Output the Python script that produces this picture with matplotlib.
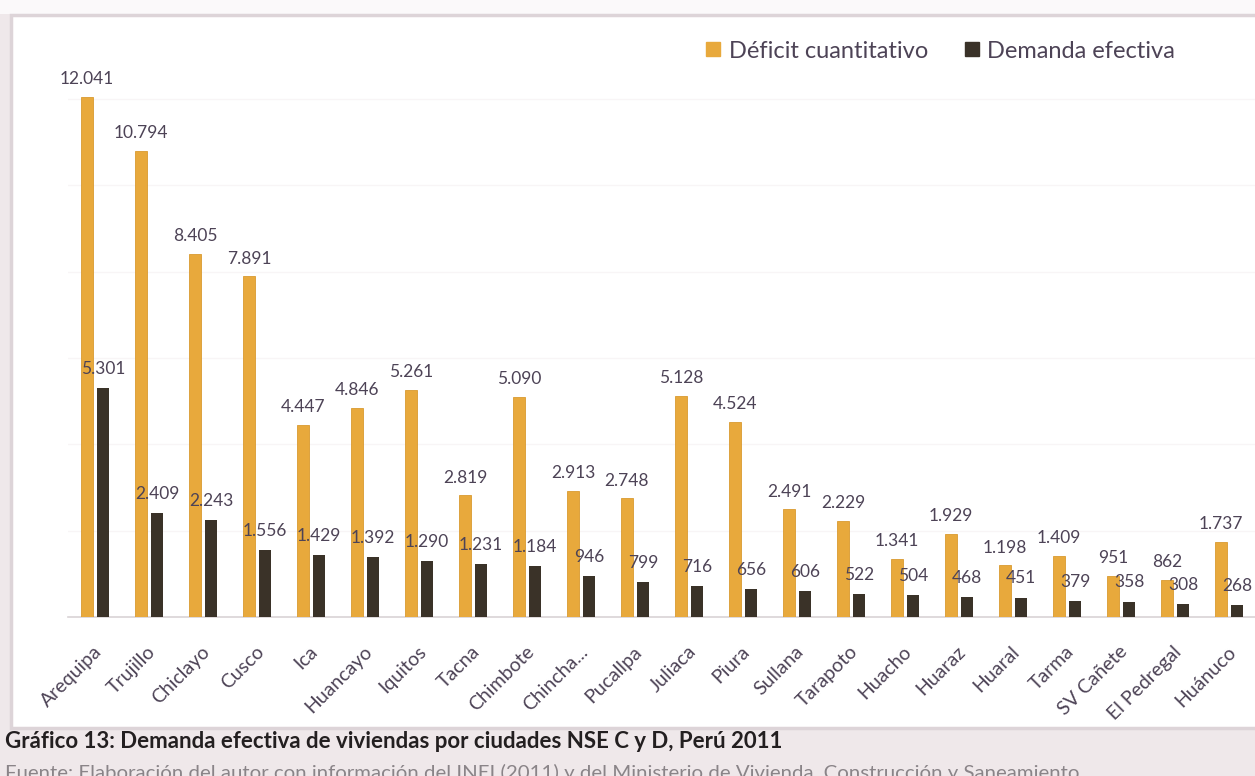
import matplotlib.pyplot as plt
from matplotlib.patches import Rectangle
from matplotlib.lines import Line2D
from matplotlib.transforms import ScaledTranslation
import numpy as np

# Ciudades y valores (viviendas) por serie
ciudades = ["Arequipa", "Trujillo", "Chiclayo", "Cusco", "Ica", "Huancayo", "Iquitos",
            "Tacna", "Chimbote", "Chincha...", "Pucallpa", "Juliaca", "Piura", "Sullana",
            "Tarapoto", "Huacho", "Huaraz", "Huaral", "Tarma", "SV Cañete", "El Pedregal",
            "Huánuco"]
deficit = [12041, 10794, 8405, 7891, 4447, 4846, 5261, 2819, 5090, 2913, 2748, 5128,
           4524, 2491, 2229, 1341, 1929, 1198, 1409, 951, 862, 1737]
demanda = [5301, 2409, 2243, 1556, 1429, 1392, 1290, 1231, 1184, 946, 799, 716, 656,
           606, 522, 504, 468, 451, 379, 358, 308, 268]

naranja = "#E8A93C"
oscuro = "#3A3228"
texto = "#4D4356"

plt.rcParams['font.family'] = ['Lato', 'DejaVu Sans']

W, H = 1255, 776
fig = plt.figure(figsize=(W / 100, H / 100), dpi=100, facecolor="#EFE8EA")

# fondo blanco del grafico
fig.patches.append(Rectangle((0, 1 - 14 / H), 1, 14 / H, transform=fig.transFigure,
                             facecolor="#FBF9FA", edgecolor="none", zorder=-2))
fig.patches.append(Rectangle((11 / W, 1 - 728 / H), 1, (728 - 15) / H,
                             transform=fig.transFigure, facecolor="white",
                             edgecolor="#DDD4D8", linewidth=2.5, zorder=-1))

ax = fig.add_axes([68 / W, (H - 617) / H, 1 - 68 / W, (617 - 34) / H])
ax.set_facecolor("none")

x = np.arange(len(ciudades))
ancho = 0.22
off = 0.15
ax.bar(x - off, deficit, ancho, color=naranja, edgecolor="#D99A30", linewidth=0.6,
       zorder=3)
ax.bar(x + off, demanda, ancho, color=oscuro, zorder=3)

def fmt(v):
    return f"{v:,}".replace(",", ".")

for xi, v in zip(x, deficit):
    ax.annotate(fmt(v), (xi - off, v), xytext=(0, 7), textcoords="offset points",
                ha="center", va="bottom", fontsize=12.5, color=texto, zorder=4)
for xi, v in zip(x, demanda):
    ax.annotate(fmt(v), (xi + off, v), xytext=(0, 8), textcoords="offset points",
                ha="center", va="bottom", fontsize=12.5, color=texto, zorder=4)

ax.set_xlim(-0.5, 21.48)
ax.set_ylim(0, 13500)
ax.set_yticks(np.arange(2000, 13000, 2000))
ax.yaxis.grid(True, color="#F8F5F6", linewidth=1, zorder=0)
ax.tick_params(axis="y", left=False, labelleft=False)
ax.set_xticks(x)
ax.set_xticklabels(ciudades, rotation=45, ha="right", va="center",
                   rotation_mode="anchor", fontsize=14, color=texto)
ax.tick_params(axis="x", length=0, pad=23)
desplaza = ScaledTranslation(4 / 100, 0, fig.dpi_scale_trans)
for lab in ax.get_xticklabels():
    lab.set_transform(lab.get_transform() + desplaza)
for s in ["top", "right", "left"]:
    ax.spines[s].set_visible(False)
ax.spines["bottom"].set_color("#D9D3D6")
ax.spines["bottom"].set_linewidth(1.2)

h1 = Line2D([], [], marker="s", linestyle="none", markersize=10, color=naranja)
h2 = Line2D([], [], marker="s", linestyle="none", markersize=10, color=oscuro)
fig.legend([h1, h2], ["Déficit cuantitativo", "Demanda efectiva"], ncol=2,
           loc="center left", bbox_to_anchor=(705 / W, 1 - 51 / H), frameon=False,
           borderpad=0, borderaxespad=0, fontsize=17, labelcolor=texto,
           handletextpad=0.3, columnspacing=1.5, handlelength=0.7)

fig.text(5 / W, 1 - 748 / H,
         "Gráfico 13: Demanda efectiva de viviendas por ciudades NSE C y D, Perú 2011",
         fontsize=16, fontweight="bold", color="#231F20", va="baseline", ha="left")
fig.text(5 / W, 1 - 764 / H,
         "Fuente: Elaboración del autor con información del INEI (2011) y del Ministerio de "
         "Vivienda, Construcción y Saneamiento",
         fontsize=14.7, color="#8A8488", va="top", ha="left")

fig.savefig("out.png", dpi=100, facecolor=fig.get_facecolor())
